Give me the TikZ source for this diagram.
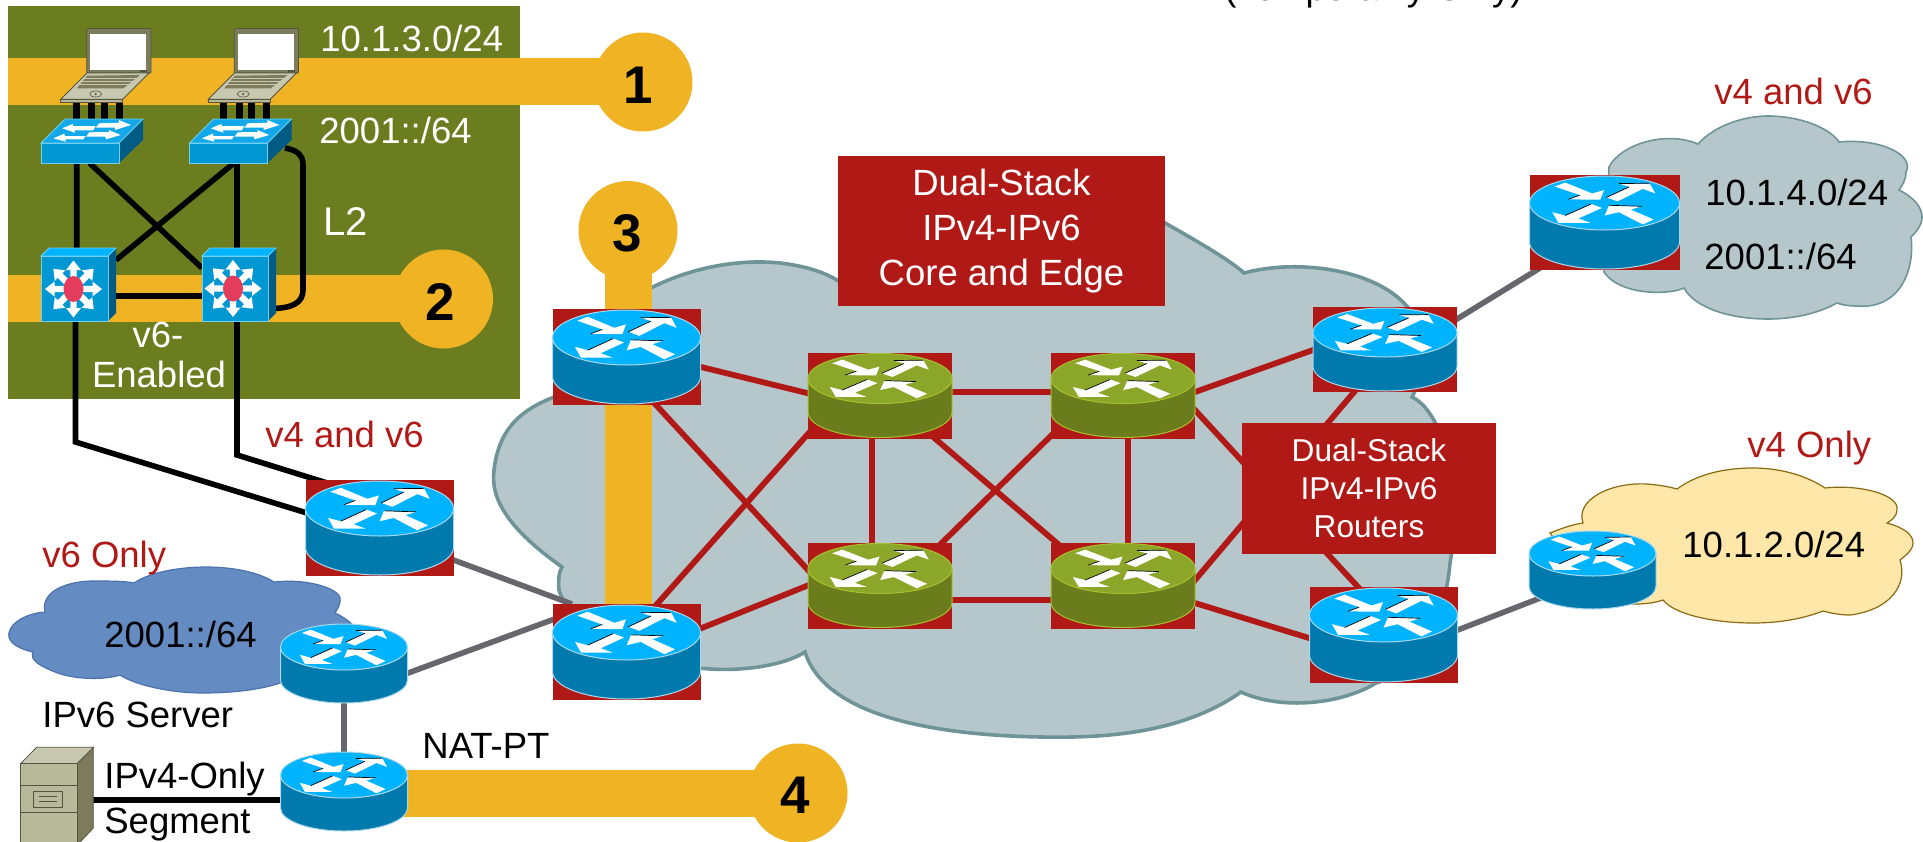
\documentclass[tikz,border=0pt]{standalone}
\usepackage{fontspec}
\setmainfont{Liberation Sans}
\pgfdeclarelayer{back}\pgfdeclarelayer{links}\pgfsetlayers{back,links,main}
\definecolor{gold}{HTML}{F0B323}
\definecolor{olive}{HTML}{6B7D1F}
\definecolor{cred}{HTML}{B11917}
\definecolor{cloudgrey}{HTML}{B5C7CB}
\definecolor{cloudedge}{HTML}{6F9498}
\definecolor{greyline}{HTML}{66666C}
\definecolor{rtopB}{HTML}{00B3FF}\definecolor{rsideB}{HTML}{0079AC}\definecolor{redgeB}{HTML}{A9D8EC}
\definecolor{rtopG}{HTML}{8BA628}\definecolor{rsideG}{HTML}{6B7C1C}\definecolor{redgeG}{HTML}{A8C030}
\definecolor{swtop}{HTML}{12A8EA}\definecolor{swfront}{HTML}{0097D3}\definecolor{swside}{HTML}{005C84}\definecolor{swedge}{HTML}{6FD0F0}
\definecolor{beige}{HTML}{B8B89A}\definecolor{beigelt}{HTML}{C8C8B0}\definecolor{beigedk}{HTML}{7C7C5C}\definecolor{beigeln}{HTML}{55553F}
\tikzset{
  rsq/.style={fill=cred,inner sep=0pt,outer sep=0pt},
  rnone/.style={inner sep=0pt,outer sep=0pt},
  txt/.style={font=\fontsize{18.25}{22.5}\selectfont,anchor=base west,inner sep=0pt},
  txtc/.style={font=\fontsize{18.25}{22.5}\selectfont,anchor=base,inner sep=0pt},
  wht/.style={text=white},
  rdt/.style={text=cred},
  num/.style={font=\fontsize{26.5}{30}\selectfont\bfseries,anchor=center,inner sep=0pt},
  gcirc/.style={circle,fill=gold,minimum size=49.5pt,inner sep=0pt,outer sep=0pt},
  goldband/.style={gold,line width=23.5pt},
  redlink/.style={cred,line width=2.9pt},
  greylink/.style={greyline,line width=2.8pt},
  blacklink/.style={black,line width=2.8pt,line join=miter},
  cable/.style={black,line width=3.5pt},
  lablbox/.style={fill=cred,text=white,align=center,inner sep=0pt},
  cloudb/.style={fill=cloudgrey,draw=cloudedge},
  anchorbox/.style={inner sep=0pt,outer sep=0pt},
}
\newcommand\lnk[5][redlink]{\draw[#1] ([shift={(#3)}]#2.center) -- ([shift={(#5)}]#4.center);}
\newcommand\rtr[8][rsq]{%
  \pgfmathsetmacro\rH{#7/#6}\pgfmathsetmacro\rK{\rH+.5523}\pgfmathsetmacro\rF{\rH+1}%
  \pgfmathsetmacro\rC{#4+(2*#6+#7)/2}%
  \node[#1,minimum width=#5*1pt,minimum height={(2*#6+#7+2)*.5pt}] (#2) at (#3,\rC) {};
  \begin{scope}[shift={(#3,#4+#6)},xscale=#5,yscale=#6]
    \fill[rside#8] (-1,0) rectangle (1,\rH);
    \fill[rside#8] (0,\rH) circle (1);
    \draw[redge#8,line width=.5pt] (-1,0) -- (-1,\rH) .. controls (-1,\rK) and (-.5523,\rF) .. (0,\rF) .. controls (.5523,\rF) and (1,\rK) .. (1,\rH) -- (1,0);
    \fill[rtop#8] (0,0) circle (1);
    \draw[redge#8,line width=.5pt] (0,0) circle (1);
    \fill[white] (-.664,-.61) -- (-.525,-.756) -- (-.164,-.354) -- (-.007,-.476) -- (-.056,-.122) -- (-.484,-.134) -- (-.327,-.293) -- cycle;
    \fill[white] (.025,-.207) -- (.331,-.598) -- (.191,-.72) -- (.601,-.732) -- (.678,-.354) -- (.511,-.524) -- (.173,-.061) -- cycle;
    \fill[white] (-.178,.037) -- (-.034,.183) -- (-.349,.573) -- (-.187,.732) -- (-.615,.732) -- (-.696,.341) -- (-.525,.463) -- cycle;
    \fill[white] (.002,.463) -- (.061,.085) -- (.498,.122) -- (.349,.244) -- (.655,.61) -- (.511,.793) -- (.191,.341) -- cycle;
    \draw[black,line width=.35pt] (-.484,-.134) -- (-.327,-.293) (.025,-.207) -- (.331,-.598) (.191,-.72) -- (.601,-.732) (-.178,.037) -- (-.525,.463) (.061,.085) -- (.498,.122);
  \end{scope}}
\newcommand\swt[3]{% name, left x, top-front y
  \node[anchorbox,minimum width=39pt,minimum height=10pt] (#1) at (#2+39,#3+10) {};
  \begin{scope}[shift={(#2,#3)}]
    \fill[swside] (78,0) -- (102,-24) -- (102,-3) -- (78,20) -- cycle;
    \filldraw[fill=swtop,draw=swedge,line width=.4pt] (0,0) -- (24,-24) -- (102,-24) -- (78,0) -- cycle;
    \filldraw[fill=swfront,draw=swedge,line width=.4pt] (0,0) rectangle (78,20);
    \fill[white] (21.3,-14.7) -- (31.7,-19) -- (32.3,-17) -- (54.7,-17) -- (52.3,-12.7) -- (33.3,-12.7) -- (34,-10.3) -- cycle;
    \fill[white] (58.3,-19.7) -- (78.3,-20.3) -- (77.7,-23) -- (90,-18) -- (74,-13) -- (74,-15.3) -- (54.7,-15.3) -- cycle;
    \fill[white] (12.3,-4.7) -- (23.3,-9.3) -- (24,-7) -- (44.7,-7) -- (42.3,-3.7) -- (24,-3.7) -- (25,-1.3) -- cycle;
    \fill[white] (48.3,-10.7) -- (68.3,-11) -- (67.7,-13) -- (79.7,-8) -- (65,-3.7) -- (64.3,-6.3) -- (45,-6.3) -- cycle;
  \end{scope}}
\newcommand\mls[5]{% name, left x, right x, star cx, star cy
  \pgfmathsetmacro\mW{#3-#2}\pgfmathsetmacro\mR{#3+8}%
  \node[anchorbox,minimum width=\mW*.5pt,minimum height=32.5pt] (#1) at ({(#2+#3)/2},288.5) {};
  \fill[swside] (#3,256) -- (\mR,248) -- (\mR,313) -- (#3,321) -- cycle;
  \filldraw[fill=rtopB,draw=swedge,line width=.4pt] (#2,256) -- (#2+8,248) -- (\mR,248) -- (#3,256) -- cycle;
  \filldraw[fill=swfront,draw=swedge,line width=.4pt] (#2,256) rectangle (#3,321);
  \begin{scope}[shift={(#4,#5)}]
    \foreach \a in {0,45,...,315}{\fill[white,rotate=\a] (0,-3.2) -- (19,-3.2) -- (19,-7.5) -- (28.5,0) -- (19,7.5) -- (19,3.2) -- (0,3.2) -- cycle;}
    \fill[fill={rgb,255:red,228;green,60;blue,92}] (0,0) circle (10 and 13);
  \end{scope}}
\newcommand\laptop[2]{% name, x offset
  \node[anchorbox,minimum width=32pt,minimum height=37pt] (#1) at (#2+105,66) {};
  \begin{scope}[shift={(#2,0)}]
    \filldraw[fill=beigedk,draw=beigeln,line width=.4pt] (86.7,30) -- (88.5,28.5) -- (151,28.5) -- (151,72) -- (150,73) -- (86.7,73) -- cycle;
    \fill[white] (90,34.3) rectangle (146,70);
    \fill[beigeln] (140,70) rectangle (147,72);
    \filldraw[fill=beigelt,draw=beigeln,line width=.4pt] (87,73) -- (149,73) -- (122.7,99.3) -- (60.7,99.3) -- cycle;
    \filldraw[fill=beige,draw=beigeln,line width=.4pt] (60.7,99.3) -- (122.7,99.3) -- (122.7,102.5) -- (60.7,102.5) -- cycle;
    \fill[beigedk] (87.3,75.7) -- (140,75) -- (123.3,88.3) -- (76.7,88.3) -- cycle;
    \draw[beigelt,line width=.35pt] (85,78.5) -- (137,78.5) (81.5,81.5) -- (133,81.5) (78.5,84.8) -- (129,84.8);
    \draw[beigeln,line width=.3pt] (95.7,94) circle (6 and 3);
    \fill[beigeln] (95.7,94) circle (1.2);
  \end{scope}}
\begin{document}
\begin{tikzpicture}[x=0.5pt,y=-0.5pt]
\useasboundingbox (0,0) rectangle (1923,841);
% ---------- backgrounds ----------
\begin{pgfonlayer}{back}
\fill[olive] (8,6) rectangle (520,399);
% main cloud
\path[cloudb,line width=1.8pt] (562,567) .. controls (510,530) and (490,500) .. (494,470)
  .. controls (500,420) and (530,400) .. (595,385) .. controls (590,345) and (600,335) .. (600,330)
  .. controls (620,295) and (700,255) .. (780,263) .. controls (805,266) and (825,272) .. (840,282)
  .. controls (880,200) and (1060,165) .. (1165,223) .. controls (1195,240) and (1230,260) .. (1244,273)
  .. controls (1300,258) and (1380,270) .. (1410,310) .. controls (1425,340) and (1422,380) .. (1412,397)
  .. controls (1440,410) and (1465,480) .. (1450,563) .. controls (1445,620) and (1420,670) .. (1376,683)
  .. controls (1340,705) and (1280,710) .. (1241,692) .. controls (1180,735) and (1100,738) .. (1041,737)
  .. controls (930,735) and (825,715) .. (805,652) .. controls (780,668) and (730,672) .. (700,668)
  .. controls (640,665) and (575,640) .. (559,590) .. controls (558,580) and (559,572) .. (562,567) -- cycle;
% v4 and v6 cloud
\path[cloudb,line width=.8pt] (1609,167) .. controls (1620,145) and (1665,130) .. (1698,144)
  .. controls (1715,125) and (1745,116) .. (1768,116) .. controls (1800,116) and (1830,128) .. (1839,142)
  .. controls (1880,138) and (1915,155) .. (1906,172) .. controls (1906,180) and (1902,186) .. (1899,190)
  .. controls (1915,198) and (1922,208) .. (1922,217) .. controls (1922,226) and (1915,233) .. (1911,237)
  .. controls (1915,270) and (1900,310) .. (1856,306) .. controls (1850,306) and (1842,305) .. (1837,303)
  .. controls (1815,315) and (1790,319) .. (1768,319) .. controls (1730,319) and (1695,308) .. (1684,288)
  .. controls (1670,295) and (1620,296) .. (1604,272) -- cycle;
% v4 only cloud
\path[fill={rgb,255:red,254;green,231;blue,168},draw={rgb,255:red,138;green,106;blue,16},line width=.6pt]
  (1583,523) .. controls (1575,500) and (1610,482) .. (1647,484) .. controls (1660,485) and (1670,487) .. (1677,489)
  .. controls (1700,472) and (1730,468) .. (1753,468) .. controls (1785,468) and (1810,478) .. (1825,488)
  .. controls (1860,484) and (1900,495) .. (1897,510) .. controls (1897,516) and (1892,520) .. (1887,523)
  .. controls (1905,528) and (1913,535) .. (1913,543) .. controls (1913,550) and (1905,556) .. (1900,560)
  .. controls (1908,585) and (1890,610) .. (1850,615) .. controls (1840,615) and (1830,613) .. (1823,611)
  .. controls (1800,620) and (1775,623) .. (1753,623) .. controls (1715,623) and (1675,615) .. (1663,600)
  .. controls (1650,605) and (1620,606) .. (1600,600) -- (1550,533) .. controls (1565,527) and (1575,524) .. (1583,523) -- cycle;
% v6 only cloud
\path[fill={rgb,255:red,101;green,139;blue,195},draw={rgb,255:red,75;green,114;blue,172},line width=.6pt]
  (45,612) .. controls (40,590) and (70,581) .. (93,581) .. controls (108,581) and (125,581) .. (134,583)
  .. controls (150,572) and (180,567) .. (206,567) .. controls (235,567) and (260,573) .. (274,582)
  .. controls (310,578) and (345,590) .. (340,602) .. controls (339,607) and (337,610) .. (335,613)
  .. controls (350,620) and (360,630) .. (360,640) -- (280,683)
  .. controls (260,690) and (230,693) .. (203,693) .. controls (170,693) and (135,685) .. (120,675)
  .. controls (105,680) and (75,680) .. (55,672) .. controls (38,665) and (30,660) .. (33,652)
  .. controls (15,648) and (5,640) .. (10,630) .. controls (14,620) and (30,613) .. (45,612) -- cycle;
\end{pgfonlayer}
% ---------- devices ----------
\laptop{L1}{0}
\laptop{L2}{147.5}
\swt{S1}{41}{143}
\swt{S2}{189.5}{143}
\mls{M1}{41}{108}{73.5}{289}
\mls{M2}{202}{268}{233}{288.5}
\rtr{R1}{379.5}{481}{74}{27.5}{39}{B}
\rtr{R2}{626.5}{605}{74}{27.5}{39}{B}
\rtr{R3}{626.5}{310}{74}{27.5}{39}{B}
\rtr{G1}{880}{353.5}{72}{25}{34}{G}
\rtr{G2}{1123}{353.5}{72}{25}{34}{G}
\rtr{G3}{880}{543.5}{72}{25}{34}{G}
\rtr{G4}{1123}{543.5}{72}{25}{34}{G}
\rtr{R4}{1385}{308}{72}{24.5}{34}{B}
\rtr{R5}{1383.5}{588}{74}{27}{40}{B}
\rtr{R6}{1604.5}{176}{75}{27}{39}{B}
\rtr[rnone]{RA}{344}{624}{63.5}{23}{33}{B}
\rtr[rnone]{RB}{344}{752}{63.5}{23}{33}{B}
\rtr[rnone]{RV}{1592.5}{531}{63.5}{22.5}{33}{B}
% server
\node[anchorbox,minimum width=28pt,minimum height=39pt] (SV) at (49,802) {};
\filldraw[fill=beigedk,draw=beigeln,line width=.4pt] (77.3,763.5) -- (93.3,747.3) -- (93.3,828) -- (77.3,845) -- cycle;
\filldraw[fill=beigelt,draw=beigeln,line width=.4pt] (20.7,763.5) -- (36.7,747.3) -- (93.3,747.3) -- (77.3,763.5) -- cycle;
\filldraw[fill=beige,draw=beigeln,line width=.4pt] (20.7,763.5) rectangle (77.3,845);
\draw[beigeln,line width=.4pt] (20.7,785) -- (77.3,785) (20.7,812) -- (77.3,812);
\draw[beigeln,line width=.5pt] (33.3,791) rectangle (62.3,807.3);
\draw[beigeln,line width=.3pt] (39.3,796.7) -- (56.7,796.7) (39.3,801.7) -- (56.7,801.7);
% numbered circles
\node[gcirc] (c1) at (643,82) {};
\node[gcirc] (c2) at (443.5,299) {};
\node[gcirc] (c3) at (628,230.5) {};
\node[gcirc] (c4) at (798,793) {};
\node[num] (n1) at (638,85) {1};
\node[num] (n2) at (440,302) {2};
\node[num] (n3) at (627,233) {3};
\node[num] (n4) at (795,795) {4};
% ---------- links ----------
\begin{pgfonlayer}{links}
\coordinate (b1) at (8,81.5);
\coordinate (b2) at (8,298.5);
\draw[goldband] (b1) -- (b1 -| c1.center);
\draw[goldband] (b2) -- (b2 -| c2.center);
\draw[goldband] (c3.center) -- (c3.center |- R2.center);
\draw[goldband] (RB.center |- c4.center) -- (c4.center);
\foreach \i/\lp/\sw in {0/L1/S1,147.5/L2/S2}{
  \foreach \xx in {76.3,91.5,104,119}{
    \draw[cable] (\i+\xx,100) -- (\i+\xx,125);
  }}
\lnk[blacklink]{S1}{-3.3,5}{M1}{2.2,-30}
\lnk[blacklink]{S2}{8.5,5}{M2}{2,-30}
\lnk[blacklink]{S1}{9.5,10}{M2}{-33,-20.5}
\lnk[blacklink]{S2}{5.5,10}{M1}{41.5,-28.5}
\lnk[blacklink]{M1}{30,7.5}{M2}{-30,7.5}
\draw[blacklink] ([shift={(56.5,-5)}]S2.center) .. controls (297,150) and (303,155) .. (303,165) -- (303,290) .. controls (303,303) and (292,308) .. ([shift={(38,20)}]M2.center);
\coordinate (d1) at (75.5,442);
\coordinate (d2) at (237,455);
\draw[blacklink] ([shift={(1,30)}]M1.center) -- (d1) -- ([shift={(-59.5,-11)}]R1.center);
\draw[blacklink] ([shift={(2,30)}]M2.center) -- (d2) -- ([shift={(-39.5,-41)}]R1.center);
\lnk[blacklink]{SV}{40,-2}{RB}{-60,8.5}
\lnk[greylink]{R1}{60.5,27}{R2}{-54.5,-48}
\lnk[greylink]{RA}{56,12.5}{R2}{-66.5,-35}
\lnk[greylink]{RA}{0,30}{RB}{0,-30}
\lnk[greylink]{R4}{65,-26.2}{R6}{-64.5,45.5}
\lnk[greylink]{R5}{66.5,-2}{RV}{-44.5,25}
\lnk{R3}{68.5,8.5}{G1}{-65,-0.5}
\lnk{R3}{18.5,36}{G3}{-65,-7.9}
\lnk{R2}{23.5,-40}{G1}{-65,30.5}
\lnk{R2}{68.5,-21.3}{G3}{-65,-2.9}
\lnk{G1}{70,-3.5}{G2}{-70,-3.5}
\lnk{G3}{70,14.5}{G4}{-70,14.5}
\lnk{G1}{-8,40}{G3}{-8,-40}
\lnk{G2}{5,40}{G4}{5,-40}
\lnk{G1}{45,34.5}{G4}{-58,-35.5}
\lnk{G2}{-58,26.5}{G3}{50,-31}
\lnk{G2}{67,-1.7}{R4}{-65,-2}
\lnk{G2}{67,9.1}{R5}{-18.5,-40.4}
\lnk{G4}{67,0.5}{R4}{-25,35.5}
\lnk{G4}{67,16}{R5}{-63.5,6.4}
\end{pgfonlayer}
% ---------- label boxes ----------
\node[lablbox,minimum width=163.5pt,minimum height=75pt,font=\fontsize{18.25}{22.5}\selectfont] (B1) at (1001.5,231) {Dual-Stack\\IPv4-IPv6\\Core and Edge};
\node[lablbox,minimum width=127pt,minimum height=65.5pt,font=\fontsize{15.8}{19}\selectfont] (B2) at (1369,488.5) {Dual-Stack\\IPv4-IPv6\\Routers};
% ---------- texts ----------
\node[txt,wht] (t1) at (320,51) {10.1.3.0/24};
\node[txt,wht] (t2) at (319,143) {2001::/64};
\node[txt,wht,font=\fontsize{20}{24}\selectfont] (t3) at (323,235) {L2};
\node[txtc,wht] (t4) at (158,347) {v6-};
\node[txtc,wht] (t5) at (159,387) {Enabled};
\node[txt,rdt] (t6) at (265,447) {v4 and v6};
\node[txt,rdt] (t7) at (42,567) {v6 Only};
\node[txt] (t8) at (104,647) {2001::/64};
\node[txt] (t9) at (42,727) {IPv6 Server};
\node[txt] (t10) at (422,758) {NAT-PT};
\node[txt] (t11) at (104,788) {IPv4-Only};
\node[txt] (t12) at (104,833) {Segment};
\node[txt,rdt] (t13) at (1714,104) {v4 and v6};
\node[txt] (t14) at (1705,205) {10.1.4.0/24};
\node[txt] (t15) at (1704,269) {2001::/64};
\node[txt,rdt] (t16) at (1747,457) {v4 Only};
\node[txt] (t17) at (1682,557) {10.1.2.0/24};
\node[txt] (t18) at (1224,0) {(Temporarily Only)};
\end{tikzpicture}
\end{document}
